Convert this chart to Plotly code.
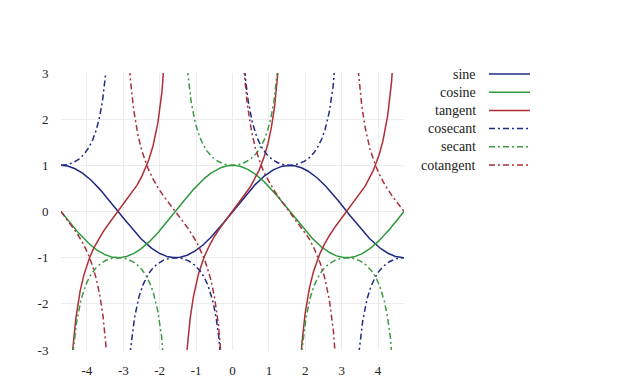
import numpy as np
import plotly.graph_objects as go

# Domain of the plotted functions (from -3π/2 to 3π/2)
x_start = -3 * np.pi / 2
x_end = 3 * np.pi / 2
x_values = np.linspace(x_start, x_end, 4001)

series_names = ["sine", "cosine", "tangent", "cosecant", "secant", "cotangent"]
series_colors = ["#1f2a85", "#2f9a3c", "#b02e36", "#1f2a85", "#3a9a44", "#a8303c"]
series_dash = ["solid", "solid", "solid", "6px,3px,2px,3px", "6px,3px,2px,3px", "6px,3px,2px,3px"]

x_tick_values = [-4, -3, -2, -1, 0, 1, 2, 3, 4]
y_tick_values = [-3, -2, -1, 0, 1, 2, 3]

with np.errstate(divide="ignore", invalid="ignore"):
    sine = np.sin(x_values)
    cosine = np.cos(x_values)
    tangent = sine / cosine
    cosecant = 1 / sine
    secant = 1 / cosine
    cotangent = cosine / sine

series_values = [sine, cosine, tangent, cosecant, secant, cotangent]


def clip_series(v, limit=4.0):
    out = np.array(v, dtype=float)
    out[~np.isfinite(out) | (np.abs(out) > limit)] = np.nan
    return out


FONT = "Liberation Serif, Times New Roman, Tinos, DejaVu Serif, serif"

fig = go.Figure()
for name, vals, col, dash in zip(series_names, series_values, series_colors, series_dash):
    fig.add_trace(go.Scatter(
        x=x_values, y=clip_series(vals), mode="lines", name=name,
        line=dict(color=col, width=1.5, dash=dash), connectgaps=False,
        showlegend=False,
    ))

# page body has an 8px default margin; figure coordinates below are in page pixels
OFF = 8
plot_left, plot_right = 61, 404
plot_w = plot_right - plot_left
plot_top, plot_bottom = 73, 350
plot_h = plot_bottom - plot_top


def px_to_paper_x(px):
    return (px - plot_left) / plot_w


def px_to_paper_y(py):
    return (plot_bottom - py) / plot_h


legend_top = 74
legend_step = 18.2
for i, (name, col, dash) in enumerate(zip(series_names, series_colors, series_dash)):
    ypx = legend_top + i * legend_step
    fig.add_annotation(
        xref="paper", yref="paper", x=px_to_paper_x(478), y=px_to_paper_y(ypx),
        text=name, showarrow=False, xanchor="right", yanchor="middle",
        font=dict(family=FONT, size=14, color="#222222"),
    )
    fig.add_shape(
        type="line", xref="paper", yref="paper",
        x0=px_to_paper_x(489), x1=px_to_paper_x(530),
        y0=px_to_paper_y(ypx), y1=px_to_paper_y(ypx),
        line=dict(color=col, width=1.5, dash=dash),
    )

fig.update_layout(
    width=640 - OFF, height=383 - OFF,
    margin=dict(l=plot_left - OFF, r=640 - plot_right, t=plot_top - OFF, b=383 - plot_bottom),
    paper_bgcolor="white", plot_bgcolor="white",
    font=dict(family=FONT, size=13, color="#222222"),
    showlegend=False,
)
fig.update_xaxes(
    range=[x_start, x_end], tickvals=x_tick_values,
    ticktext=[str(v) for v in x_tick_values],
    showgrid=True, gridcolor="#ececec", gridwidth=1,
    zeroline=False, showline=False, automargin=False,
    ticks="outside", ticklen=8, tickcolor="rgba(0,0,0,0)",
)
fig.update_yaxes(
    range=[-3, 3], tickvals=y_tick_values,
    ticktext=[str(v) for v in y_tick_values],
    showgrid=True, gridcolor="#ececec", gridwidth=1,
    zeroline=False, showline=False, automargin=False,
    ticks="outside", ticklen=9, tickcolor="rgba(0,0,0,0)",
)

fig.write_html("out.html")
